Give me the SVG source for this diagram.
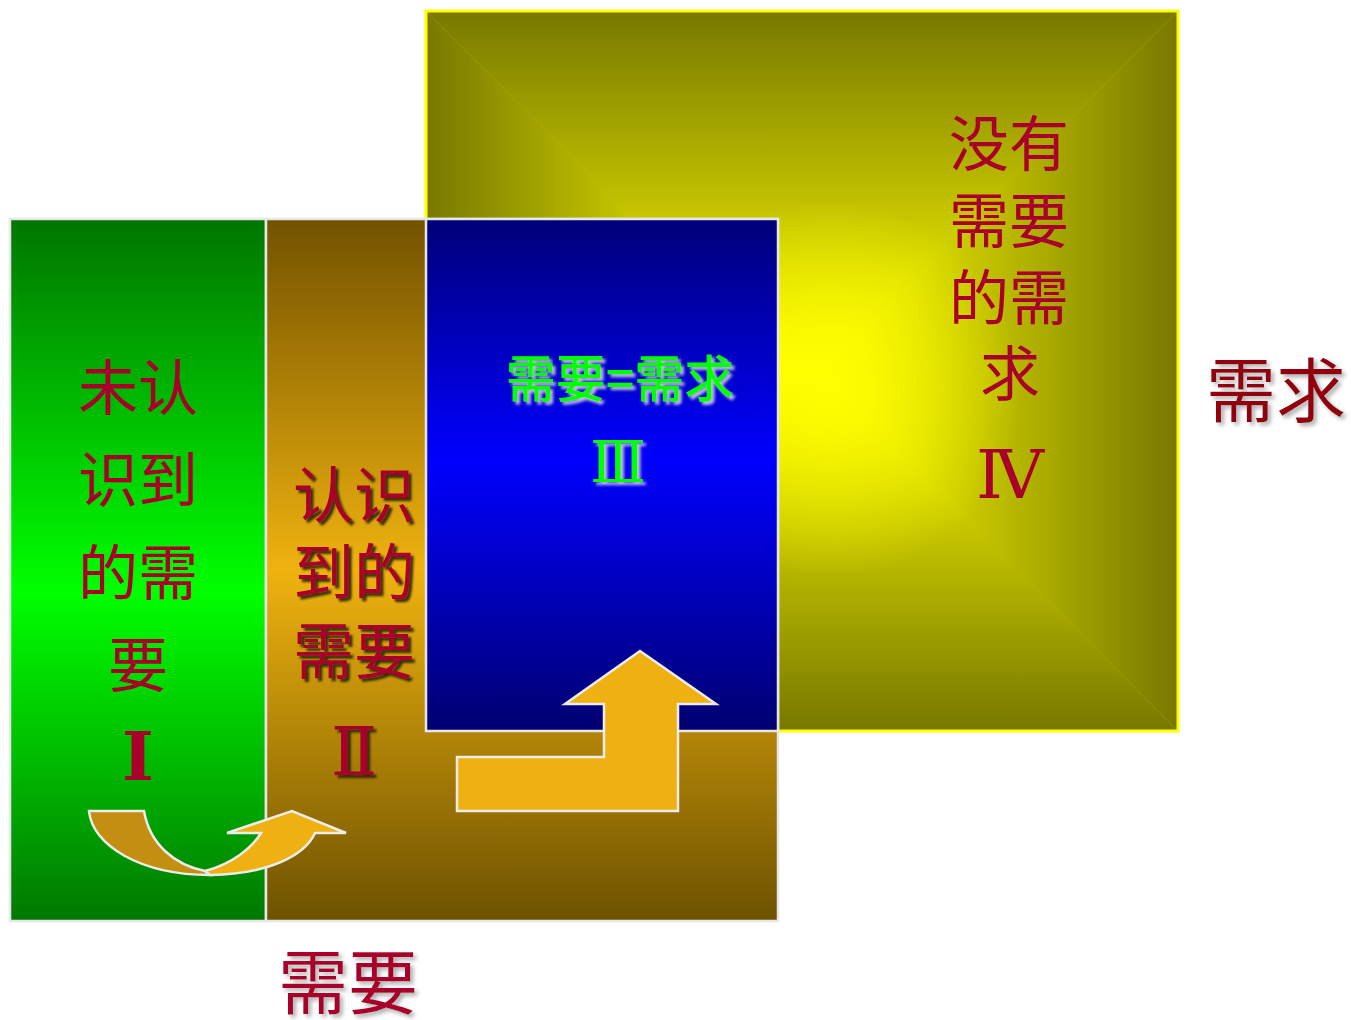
<svg xmlns="http://www.w3.org/2000/svg" width="1351" height="1020" viewBox="0 0 1351 1020">
<defs>
<style>
.cj{font-family:"Noto Sans CJK SC","Noto Sans CJK TC",sans-serif;text-anchor:middle}
.rn{font-family:"Liberation Serif","DejaVu Serif","Noto Sans CJK SC",serif;text-anchor:middle}
.red{fill:#A8002A}
.box{stroke:#E6E6E6;stroke-width:2.5}
.arr{stroke:#ECECEC;stroke-width:2.5;stroke-linejoin:miter}
</style>
<linearGradient id="gT" x1="0" y1="11" x2="0" y2="371" gradientUnits="userSpaceOnUse"><stop offset="0" stop-color="#787800"/><stop offset="0.6" stop-color="#CACA00"/><stop offset="1" stop-color="#FFFF00"/></linearGradient>
<linearGradient id="gB" x1="0" y1="731" x2="0" y2="371" gradientUnits="userSpaceOnUse"><stop offset="0" stop-color="#787800"/><stop offset="0.6" stop-color="#CACA00"/><stop offset="1" stop-color="#FFFF00"/></linearGradient>
<linearGradient id="gL" x1="426" y1="0" x2="786" y2="0" gradientUnits="userSpaceOnUse"><stop offset="0" stop-color="#787800"/><stop offset="0.6" stop-color="#CACA00"/><stop offset="1" stop-color="#FFFF00"/></linearGradient>
<linearGradient id="gR" x1="1178" y1="0" x2="818" y2="0" gradientUnits="userSpaceOnUse"><stop offset="0" stop-color="#787800"/><stop offset="0.6" stop-color="#CACA00"/><stop offset="1" stop-color="#FFFF00"/></linearGradient>
<radialGradient id="glow" cx="830" cy="390" r="190" gradientUnits="userSpaceOnUse"><stop offset="0" stop-color="#FFFF00" stop-opacity="0.9"/><stop offset="0.5" stop-color="#FFFF00" stop-opacity="0.45"/><stop offset="1" stop-color="#FFFF00" stop-opacity="0"/></radialGradient>
<linearGradient id="green" x1="0" y1="0" x2="0" y2="1"><stop offset="0" stop-color="#007500"/><stop offset="0.53" stop-color="#00FF00"/><stop offset="1" stop-color="#007800"/></linearGradient>
<linearGradient id="brown" x1="0" y1="0" x2="0" y2="1"><stop offset="0" stop-color="#735200"/><stop offset="0.5" stop-color="#EFB20F"/><stop offset="1" stop-color="#6E5200"/></linearGradient>
<linearGradient id="blue" x1="0" y1="0" x2="0" y2="1"><stop offset="0" stop-color="#000078"/><stop offset="0.47" stop-color="#0000FF"/><stop offset="1" stop-color="#000070"/></linearGradient>
<filter id="darkShadow" x="-10%" y="-10%" width="130%" height="130%"><feDropShadow dx="3" dy="3" stdDeviation="1" flood-color="#2a2000" flood-opacity="0.9"/></filter>
<filter id="lightShadow" x="-10%" y="-10%" width="130%" height="130%"><feDropShadow dx="3" dy="3" stdDeviation="1.5" flood-color="#C8C8E0" flood-opacity="0.95"/></filter>
<filter id="grayShadow" x="-10%" y="-10%" width="130%" height="130%"><feDropShadow dx="3" dy="3" stdDeviation="2" flood-color="#999999" flood-opacity="0.8"/></filter>
</defs>

<g id="box-IV">
<rect x="426" y="11" width="752" height="720" fill="#C0C000"/>
<polygon points="426,11 1178,11 818,371 786,371" fill="url(#gT)"/>
<polygon points="426,731 1178,731 818,371 786,371" fill="url(#gB)"/>
<polygon points="426,11 786,371 426,731" fill="url(#gL)"/>
<polygon points="1178,11 818,371 1178,731" fill="url(#gR)"/>
<rect x="426" y="11" width="752" height="720" fill="url(#glow)"/>
<rect x="426" y="11" width="752" height="720" fill="none" stroke="#FFFF00" stroke-width="3"/>
</g>

<g id="box-I">
<rect class="box" x="10" y="219" width="256" height="702" fill="url(#green)"/>
</g>

<g id="box-II">
<rect class="box" x="266" y="219" width="512" height="702" fill="url(#brown)"/>
</g>

<g id="box-III">
<rect class="box" x="426" y="219" width="352" height="512" fill="url(#blue)"/>
</g>

<g id="label-I">
<text class="cj red" font-size="60"><tspan x="138" y="410">未认</tspan><tspan x="138" y="502">识到</tspan><tspan x="138" y="595">的需</tspan><tspan x="138" y="687">要</tspan></text>
<text class="rn red" font-size="68" font-weight="bold" x="138" y="780">Ⅰ</text>
</g>

<g id="label-II" filter="url(#darkShadow)">
<text class="cj red" font-size="61"><tspan x="354" y="518">认识</tspan><tspan x="354" y="595">到的</tspan><tspan x="354" y="674">需要</tspan></text>
<text class="rn red" font-size="68" x="354" y="775">Ⅱ</text>
</g>

<g id="label-III" filter="url(#lightShadow)">
<text class="cj" fill="#00FF00" font-size="50" font-weight="500" x="620" y="397">需要=需求</text>
<text class="rn" fill="#00FF00" font-size="58" x="618" y="482">Ⅲ</text>
</g>

<g id="label-IV">
<text class="cj red" font-size="60"><tspan x="1009" y="166">没有</tspan><tspan x="1009" y="243">需要</tspan><tspan x="1009" y="320">的需</tspan><tspan x="1010" y="396">求</tspan></text>
<text class="rn red" font-size="68" x="1010" y="498">Ⅳ</text>
</g>

<g id="label-demand" filter="url(#grayShadow)">
<text class="cj" fill="#920008" font-size="70" x="1276" y="417">需求</text>
</g>

<g id="label-need" filter="url(#grayShadow)">
<text class="cj red" font-size="70" x="348" y="1009">需要</text>
</g>

<g id="connectors">
<path class="arr" fill="#C48E10" d="M89,811 L144,811 C150,845 175,865 205,871 L210,875 C140,875 92,845 89,811 Z"/>
<path class="arr" fill="#EEB111" d="M205,871 C232,864 252,848 261,833 L227,833 L292,811 L346,833 L315,833 C305,855 270,874 210,875 Z"/>
<path class="arr" fill="#EEB111" d="M640,651 L716,704 L678,704 L678,811 L457,811 L457,757 L604,757 L604,704 L565,704 Z"/>
</g>
</svg>
